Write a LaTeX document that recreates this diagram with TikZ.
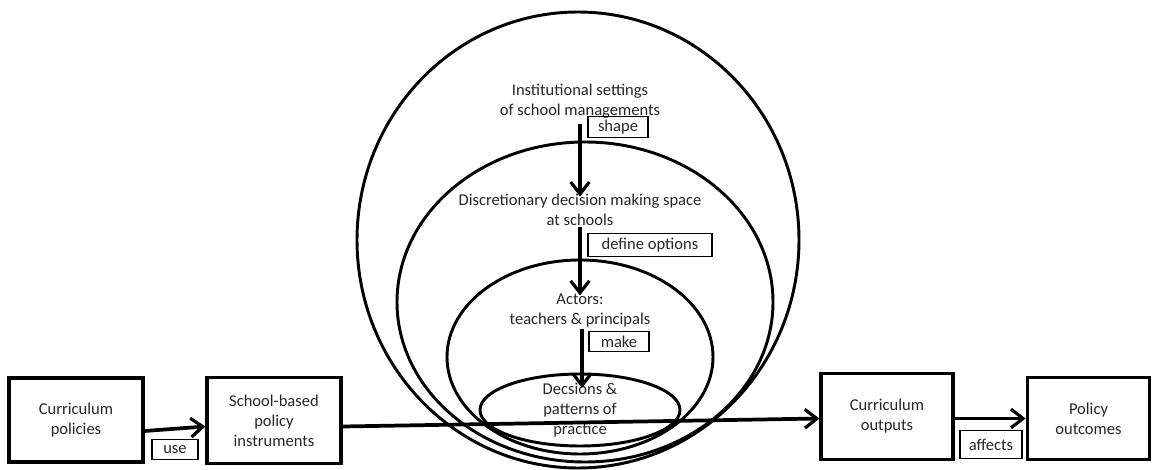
\documentclass[tikz,border=0pt]{standalone}
\usepackage{fontspec}
\setmainfont{Carlito}
\usetikzlibrary{arrows.meta,shapes.geometric,calc}
\tikzset{
  ring/.style={ellipse, draw, line width=2.2pt, inner sep=0pt},
  bigbox/.style={rectangle, draw, line width=2.3pt, inner sep=0pt, align=center, text=black!85},
  tag/.style={rectangle, draw, line width=0.9pt, inner sep=0pt, text=black!85},
  txt/.style={align=center, inner sep=1pt, text=black!85},
  arr/.style={line width=2.8pt, -{Straight Barb[length=9pt,width=14pt,line width=2.4pt]}},
}
\begin{document}
\begin{tikzpicture}[x=0.75pt,y=-0.75pt,font=\fontsize{12.4pt}{15pt}\selectfont]
\useasboundingbox (0,0) rectangle (1154,470);
% ellipses
\node[ring, minimum width=331.5pt, minimum height=342pt] (e1) at (578,240) {};
\node[ring, minimum width=282pt, minimum height=240pt] (e2) at (585,302) {};
\node[ring, minimum width=199.5pt, minimum height=145.5pt] (e3) at (580,357) {};
\node[ring, minimum width=150pt, minimum height=54pt] (e4) at (580,410) {};
% texts inside
\node[txt] (inst) at (580,101) {Institutional settings\\of school managements};
\node[txt] (disc) at (580,210) {Discretionary decision making space\\at schools};
\node[txt] (act) at (580,311) {Actors:\\teachers \& principals};
\node[txt] (dec) at (580,410) {Decsions \&\\patterns of\\practice};
% tags
\node[tag, minimum width=45pt, minimum height=15.5pt] (tshape) at (618,127) {shape};
\node[tag, minimum width=93pt, minimum height=17.5pt] (tdef) at (650,245) {define options};
\node[tag, minimum width=45pt, minimum height=15.5pt] (tmake) at (619,341.5) {make};
\node[tag, minimum width=34.5pt, minimum height=14.5pt] (tuse) at (175,449.5) {use};
\node[tag, minimum width=46.5pt, minimum height=21pt] (taff) at (991,444.5) {affects};
% boxes
\node[bigbox, minimum width=100.5pt, minimum height=63pt] (cp) at (76,420) {Curriculum\\policies};
\node[bigbox, minimum width=100.5pt, minimum height=64pt] (sb) at (274,420.5) {School-based\\policy\\instruments};
\node[bigbox, minimum width=99pt, minimum height=64pt] (co) at (887,416.5) {Curriculum\\outputs};
\node[bigbox, minimum width=92pt, minimum height=62pt] (po) at (1088.5,418.5) {Policy\\outcomes};
% vertical arrows
\draw[arr, shorten <=3pt, shorten >=-3pt] (inst.south) -- (disc.north);
\draw[arr, shorten >=-2pt] (disc.south) -- (act.north);
\draw[arr, shorten >=-5pt] ($(act.south)+(2,0)$) -- ($(dec.north)+(2,0)$);
% horizontal flow
\draw[arr] ($(cp.east)+(0,11)$) -- ($(sb.west)+(0,6)$);
\draw[arr] ($(sb.east)+(0,6)$) -- ($(co.west)+(0,2)$);
\draw[arr] ($(co.east)+(0,2)$) -- ($(po.west)+(0,0)$);
\end{tikzpicture}
\end{document}
